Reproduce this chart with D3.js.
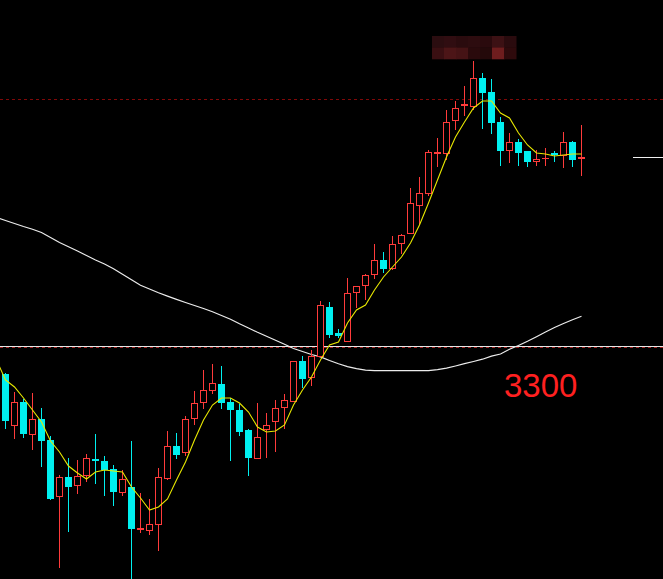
<!DOCTYPE html>
<html>
<head>
<meta charset="utf-8">
<script src="https://cdn.jsdelivr.net/npm/d3@7/dist/d3.min.js"></script>
<style>
html,body{margin:0;padding:0;background:#000;overflow:hidden;}
svg{display:block;}
</style>
</head>
<body>
<svg id="chart" width="663" height="579"></svg>
<script>
// ---- data ----
const opens  = [3272,3220,3244,3211,3227,3206,3149,3169,3160,3170,3187,3185,3177,3153,3159,3116,3115,3121,3167,3200,3193,3227,3243,3255,3262,3244,3236,3216,3187,3216,3224,3238,3244,3285,3268,3289,3339,3313,3304,3353,3360,3371,3386,3377,3402,3412,3440,3452,3492,3492,3525,3540,3539,3568,3554,3524,3495,3504,3495,3484,3487,3493,3490,3504,3487];
const highs  = [3273,3254,3247,3253,3238,3210,3171,3188,3186,3192,3212,3190,3181,3176,3205,3153,3147,3178,3215,3213,3230,3255,3276,3282,3280,3248,3242,3217,3243,3233,3246,3252,3285,3290,3296,3345,3344,3317,3368,3360,3372,3402,3394,3410,3412,3458,3469,3496,3508,3536,3545,3560,3585,3573,3567,3529,3513,3507,3495,3496,3498,3495,3514,3505,3521];
const lows   = [3217,3207,3208,3196,3179,3146,3078,3114,3152,3164,3162,3150,3140,3150,3060,3113,3111,3095,3166,3187,3190,3221,3237,3252,3237,3185,3210,3170,3187,3188,3194,3217,3244,3258,3260,3289,3308,3308,3304,3338,3346,3367,3373,3376,3392,3412,3421,3450,3479,3486,3516,3530,3536,3517,3512,3480,3483,3480,3479,3480,3480,3484,3478,3479,3470];
const closes = [3225,3244,3212,3227,3205,3147,3169,3159,3170,3188,3185,3176,3154,3167,3117,3118,3122,3169,3200,3191,3227,3243,3256,3263,3243,3236,3214,3188,3209,3221,3238,3246,3285,3267,3290,3341,3311,3310,3353,3360,3371,3386,3377,3402,3411,3443,3453,3494,3494,3524,3538,3542,3568,3553,3523,3495,3504,3493,3484,3487,3488,3491,3504,3486,3489];
// moving averages; first value belongs to the bar before the first visible bar
const ma5  = [3286,3266,3259,3248,3236,3224,3205,3194,3180,3173,3167,3174,3176,3175,3174,3159,3148,3136,3139,3147,3166,3184,3206,3226,3241,3248,3248,3243,3234,3219,3214,3215,3221,3241,3256,3269,3286,3301,3304,3323,3336,3341,3356,3369,3379,3389,3403,3421,3443,3466,3489,3509,3524,3538,3545,3545,3533,3528,3513,3501,3493,3492,3490,3491,3492,3492];
const ma60 = [3428.5,3425.5,3422.5,3419.5,3416.8,3413.5,3408.5,3403.5,3399.3,3395,3390.5,3386,3382,3377.2,3371.7,3366.2,3360.8,3357,3353.3,3349.9,3346.6,3343.5,3340.5,3337.5,3334.2,3330.5,3326.8,3322.2,3318,3313.7,3309.7,3305.7,3301.7,3297.5,3294.5,3291.5,3289.1,3285.5,3282.2,3279.4,3277.4,3275.9,3275.3,3275.3,3275.3,3275.3,3275.3,3275.3,3275.3,3276.3,3277.8,3280,3282.3,3284.5,3286.8,3289.8,3292,3296.7,3300.5,3304.7,3309.3,3314,3318.5,3322.5,3326.2,3329.7];
const levelPrice = 3300;      // solid reference line + label
const levelLabel = "3300";
const dashedLevels = [3547, 3299];
// pixelated blur patch (two rows of blocks)
const mosaicRow1 = ["#2b0d10","#300d11","#2a0b0e","#2d0c0f","#2a0a0d","#3c1114","#2a0b0e"];
const mosaicRow2 = ["#3a0f12","#4c1517","#451315","#2a0a0c","#24090a","#6e1d1e","#2e0a0c"];

// ---- drawing ----
const W = 663, H = 579;
const svg = d3.select("#chart");
svg.append("rect").attr("width",W).attr("height",H).attr("fill","#000");

const x = d3.scaleLinear().domain([-1, 64]).range([-3.5, 581.5]);
const y = d3.scaleLinear().domain([3067, 3646]).range([579, 0]);
const px = v => Math.round(y(v));

const RED = "#ff3b3b", CYAN = "#00f0f0";

// dashed levels
dashedLevels.forEach((p,i)=>{
  svg.append("line").attr("x1",0).attr("x2",W)
    .attr("y1",px(p)+0.5).attr("y2",px(p)+0.5)
    .attr("stroke", i===0 ? "#800808" : "#a02020")
    .attr("stroke-width",1).attr("stroke-dasharray","3,3");
});
// solid level
svg.append("line").attr("x1",0).attr("x2",W)
  .attr("y1",px(levelPrice)+0.5).attr("y2",px(levelPrice)+0.5)
  .attr("stroke","#e6e6e6").attr("stroke-width",1);

// MA60 (white)
const maIdx = d3.range(-1, 65);
const lineGen = arr => d3.line().x((d,i)=>x(maIdx[i])).y(d=>y(d))(arr);
svg.append("path").attr("d", lineGen(ma60)).attr("fill","none")
  .attr("stroke","#ececec").attr("stroke-width",1.2);

// candles
const idx = d3.range(opens.length);
const g = svg.append("g");
idx.forEach(i=>{
  const o=opens[i], c=closes[i], h=highs[i], l=lows[i];
  const cx = Math.floor(x(i)) + 0.5;
  const up = c >= o;
  const top = px(Math.max(o,c)), bot = px(Math.min(o,c));
  const yh = px(h), yl = px(l);
  if (up) {
    if (yh < top) g.append("line").attr("x1",cx).attr("x2",cx).attr("y1",yh).attr("y2",top).attr("stroke",RED);
    if (yl > bot) g.append("line").attr("x1",cx).attr("x2",cx).attr("y1",bot).attr("y2",yl).attr("stroke",RED);
    g.append("rect").attr("x",cx-3).attr("y",top+0.5).attr("width",6).attr("height",Math.max(bot-top-1,0.001))
      .attr("fill","#000").attr("stroke",RED).attr("stroke-width",1);
  } else {
    g.append("line").attr("x1",cx).attr("x2",cx).attr("y1",yh).attr("y2",yl).attr("stroke",CYAN);
    g.append("rect").attr("x",cx-3.5).attr("y",top).attr("width",7).attr("height",Math.max(bot-top,2))
      .attr("fill",CYAN);
  }
});

// MA5 (yellow)
svg.append("path").attr("d", lineGen(ma5)).attr("fill","none")
  .attr("stroke","#e8e800").attr("stroke-width",1.1);

// last price marker
svg.append("line").attr("x1",633).attr("x2",W)
  .attr("y1",px(closes[closes.length-1])+0.5).attr("y2",px(closes[closes.length-1])+0.5)
  .attr("stroke","#f0f0f0").attr("stroke-width",1);

// level label
svg.append("text").attr("x",504).attr("y",y(levelPrice)+50.5)
  .attr("font-family","'Liberation Sans', Arial, sans-serif").attr("font-size",33)
  .attr("fill","#ff2020").text(levelLabel);

// mosaic patch
const mx = d3.scaleBand().domain(d3.range(mosaicRow1.length)).range([432,516]);
[mosaicRow1, mosaicRow2].forEach((row,r)=>{
  row.forEach((col,j)=>{
    svg.append("rect").attr("x",mx(j)).attr("y",36+r*11.5)
      .attr("width",mx.bandwidth()+0.5).attr("height",11.8).attr("fill",col);
  });
});
</script>
</body>
</html>
